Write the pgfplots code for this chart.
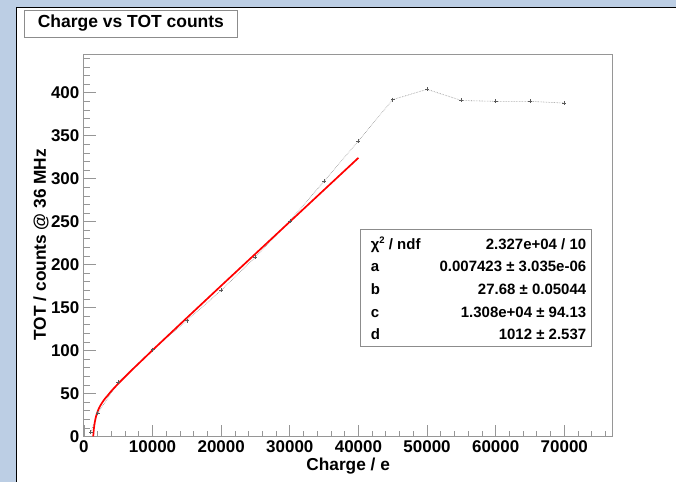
\documentclass[border=0pt]{standalone}
\usepackage{fontspec}
\setmainfont{Liberation Sans}
\usepackage{pgfplots}
\pgfplotsset{compat=1.18}

\definecolor{rootbg}{RGB}{188,206,228}
\definecolor{framegray}{RGB}{150,150,150}
\definecolor{boxgray}{RGB}{140,140,140}

\begin{document}
\begin{tikzpicture}[x=1pt,y=1pt]
% canvas: blue window border and white pad
\fill[rootbg] (0,0) rectangle (677,-482);
\fill[white] (16,-7) rectangle (677,-482);
\draw[black, line width=1.4pt] (16.5,-482) -- (16.5,-7.3) -- (677,-7.3);

\begin{axis}[
  at={(84pt,-437pt)}, anchor=south west,
  scale only axis, width=529pt, height=382pt,
  xmin=0, xmax=77000, ymin=0, ymax=444,
  axis line style={framegray, line width=0.9pt},
  tick style={framegray, line width=0.8pt},
  tick align=inside, tick pos=left,
  major tick length=12pt, minor tick length=6pt,
  xtick={0,10000,...,70000},
  minor xtick={2000,4000,...,76000},
  ytick={0,50,...,400},
  minor ytick={10,20,...,440},
  scaled x ticks=false, scaled y ticks=false,
  /pgf/number format/assume math mode=true,
  /pgf/number format/set thousands separator={},
  ticklabel style={font=\bfseries\fontsize{17}{19}\selectfont, text=black},
  xticklabel style={yshift=-1pt},
  yticklabel style={xshift=-1pt},
  xlabel={Charge / e},
  ylabel={TOT / counts @ 36 MHz},
  label style={font=\bfseries\fontsize{17.3}{19}\selectfont},
  xlabel style={at={(axis description cs:0.5,-0.0785)}, anchor=center},
  ylabel style={at={(axis description cs:-0.0813,0.503)}, anchor=center},
  clip=true,
]
% measured points
\addplot[black!45, densely dotted, line width=0.6pt, mark=+, mark size=2pt,
  mark options={solid, black!65}] coordinates {
  (1000,5) (2000,27) (5000,63) (10000,101) (15000,135) (20000,170)
  (25000,209) (30000,251) (35000,297) (40000,344) (45000,392)
  (50000,404) (55000,391) (60000,390) (65000,390) (70000,388)
};
% fit curve (values read along the drawn fit)
\addplot[red, line width=1.7pt, smooth] coordinates {
  (1360,0.2) (1400,4.4) (1450,8.9) (1500,12.0) (1600,17.3) (1700,21.2)
  (1800,24.4) (2000,29.3) (2250,33.9) (2500,37.5) (3000,43.4)
  (3500,48.1) (4000,53.0) (5000,61.5) (6000,69.6) (7000,77.5)
  (8500,89.0) (10000,100.5) (12500,119.3) (15000,138.1) (17500,156.8)
  (20000,175.5) (22500,194.1) (25000,212.7) (27500,231.3) (30000,249.9)
  (32500,268.5) (35000,287.1) (37500,305.7) (40000,324.3)
};
\end{axis}

% title box
\node[draw=boxgray, line width=0.8pt, fill=white, inner sep=0pt,
  minimum width=214pt, minimum height=27pt,
  font=\bfseries\fontsize{17.5}{20}\selectfont] at (131,-23.5) {Charge vs TOT counts};

% fit statistics box
\draw[boxgray, line width=0.8pt, fill=white] (361,-230) rectangle (592,-347);
\begin{scope}[every node/.style={font=\bfseries\fontsize{15}{17}\selectfont, inner sep=0pt}]
\node[anchor=base west] at (371,-250) {χ\raisebox{0.45em}{\fontsize{9.5}{10}\selectfont 2} / ndf};
\node[anchor=base east] at (587,-250) {2.327e+04 / 10};
\node[anchor=base west] at (371,-272) {a};
\node[anchor=base east] at (587,-272) {0.007423 ± 3.035e-06};
\node[anchor=base west] at (371,-295) {b};
\node[anchor=base east] at (587,-295) {27.68 ± 0.05044};
\node[anchor=base west] at (371,-318) {c};
\node[anchor=base east] at (587,-318) {1.308e+04 ± 94.13};
\node[anchor=base west] at (371,-340) {d};
\node[anchor=base east] at (587,-340) {1012 ± 2.537};
\end{scope}
\end{tikzpicture}
\end{document}
